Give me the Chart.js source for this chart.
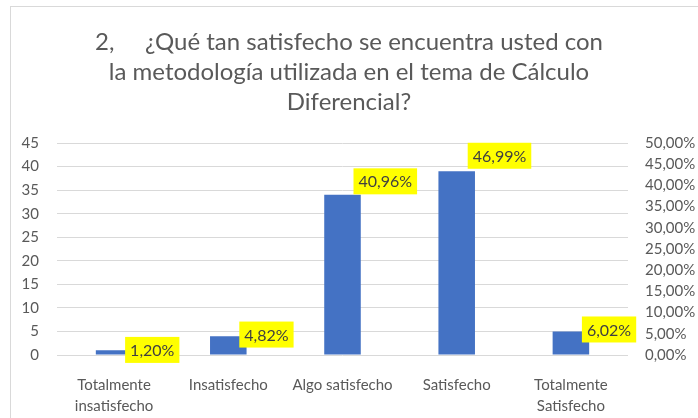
<!DOCTYPE html>
<html>
<head>
<meta charset="utf-8">
<script src="https://cdn.jsdelivr.net/npm/chart.js@4"></script>
<style>
  html, body { margin: 0; padding: 0; background: #fff; }
  #wrap { width: 698px; height: 418px; }
</style>
</head>
<body>
<div id="wrap"><canvas id="chart" width="698" height="418"></canvas></div>
<script>
// categorías y valores
const categories = [
  ["Totalmente", "insatisfecho"],
  "Insatisfecho",
  "Algo satisfecho",
  "Satisfecho",
  ["Totalmente", "Satisfecho"]
];
const counts = [1, 4, 34, 39, 5];
const percents = [1.20, 4.82, 40.96, 46.99, 6.02];
const titleLines = [
  "2,\u00A0\u00A0\u00A0\u00A0\u00A0¿Qué tan satisfecho se encuentra usted con",
  "la metodología utilizada en el tema de Cálculo",
  "Diferencial?"
];

const FONT = "Lato, 'Noto Sans', sans-serif";
const fmtPct = (v) => v.toFixed(2).replace(".", ",") + "%";

// marco gris alrededor del gráfico
const framePlugin = {
  id: "frame",
  beforeDraw(chart) {
    const ctx = chart.ctx;
    ctx.save();
    ctx.strokeStyle = "#d9d9d9";
    ctx.lineWidth = 1;
    ctx.strokeRect(10.5, 6.5, 720, 440);
    ctx.restore();
  }
};

// etiquetas amarillas con el porcentaje
const pctLabels = {
  id: "pctLabels",
  afterDatasetsDraw(chart) {
    const ctx = chart.ctx;
    const meta = chart.getDatasetMeta(1);
    ctx.save();
    ctx.font = "16px " + FONT;
    ctx.textBaseline = "middle";
    meta.data.forEach((pt, i) => {
      const txt = fmtPct(percents[i]);
      const w = ctx.measureText(txt).width + 10;
      const x = pt.x + 11;
      const y = pt.y;
      ctx.fillStyle = "#ffff00";
      ctx.fillRect(x, y - 13, w, 26);
      ctx.fillStyle = "#404040";
      ctx.fillText(txt, x + 5, y + 1);
    });
    ctx.restore();
  }
};

new Chart(document.getElementById("chart"), {
  data: {
    labels: categories,
    datasets: [
      {
        type: "bar",
        label: "Frecuencia",
        data: counts,
        backgroundColor: "#4472c4",
        barPercentage: 0.32,
        categoryPercentage: 1,
        yAxisID: "y"
      },
      {
        type: "line",
        label: "Porcentaje",
        data: percents,
        showLine: false,
        pointRadius: 0,
        yAxisID: "y1"
      }
    ]
  },
  options: {
    responsive: false,
    animation: false,
    layout: { padding: 0 },
    plugins: {
      legend: { display: false },
      tooltip: { enabled: false },
      title: {
        display: true,
        text: titleLines,
        color: "#595959",
        font: { family: FONT, size: 24, weight: "normal", lineHeight: 1.25 },
        padding: { top: 27, bottom: 26 }
      }
    },
    scales: {
      x: {
        grid: { display: false },
        border: { display: false },
        ticks: {
          color: "#595959",
          font: { family: FONT, size: 15, lineHeight: 1.4 },
          padding: 12,
          maxRotation: 0,
          autoSkip: false
        },
        afterFit(s) { s.height = 63; }
      },
      y: {
        position: "left",
        min: 0,
        max: 45,
        ticks: {
          stepSize: 5,
          color: "#595959",
          font: { family: FONT, size: 15 },
          padding: 18
        },
        grid: { color: "#d9d9d9", drawTicks: false },
        border: { display: false },
        afterFit(s) { s.width = 57; }
      },
      y1: {
        position: "right",
        min: 0,
        max: 50,
        ticks: {
          stepSize: 5,
          color: "#595959",
          font: { family: FONT, size: 15 },
          padding: 17,
          callback: (v) => v.toFixed(2).replace(".", ",") + "%"
        },
        grid: { display: false, drawTicks: false },
        border: { display: false },
        afterFit(s) { s.width = 70; }
      }
    }
  },
  plugins: [framePlugin, pctLabels]
});
</script>
</body>
</html>
